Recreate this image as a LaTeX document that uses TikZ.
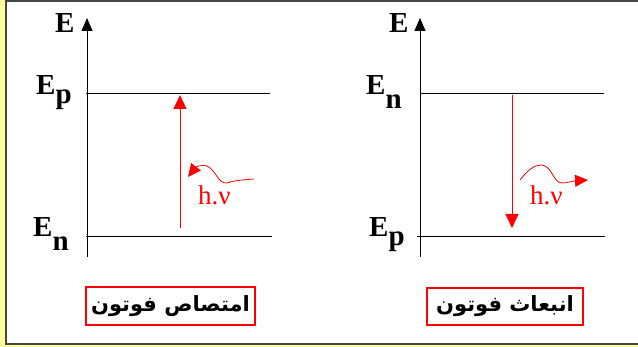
\documentclass[tikz,border=0pt]{standalone}
\usepackage{fontspec}
\setmainfont{Liberation Serif}
\newfontfamily\arabicfont[Script=Arabic]{DejaVu Sans}
\TeXXeTstate=1
\usetikzlibrary{arrows.meta}
\definecolor{bgyellow}{HTML}{FFFF99}
\definecolor{framegray}{HTML}{454545}
\definecolor{myred}{HTML}{FF0000}
\tikzset{
  level/.style={draw=black,line width=1pt},
  axisline/.style={draw=black,line width=1pt,-{Triangle[length=13pt,width=11pt]}},
  transition/.style={draw=myred,line width=1pt,-{Triangle[length=14pt,width=13pt]}},
  photon/.style={draw=myred,line width=0.8pt,-{Triangle[length=13pt,width=12pt]}},
  elabel/.style={anchor=base west,inner sep=0pt,font=\bfseries\fontsize{29}{32}\selectfont},
  hnu/.style={anchor=base west,inner sep=0pt,text=myred,font=\fontsize{27}{30}\selectfont},
  caption/.style={draw=myred,line width=1.2pt,fill=white,inner sep=0pt,font=\arabicfont\bfseries\fontsize{21}{24}\selectfont}
}
\begin{document}
\begin{tikzpicture}[x=1pt,y=-1pt]
\useasboundingbox (0,0) rectangle (638,347);
\fill[bgyellow] (0,0) rectangle (638,347);
\draw[framegray,line width=2pt,fill=white] (6,1) rectangle (660,344);
% ---------- left diagram: absorption ----------
\coordinate (LA0) at (87,257);
\coordinate (LA1) at (87,18);
\draw[axisline] (LA0) -- (LA1);
\node[elabel] (LE) at (55,33) {E};
\coordinate (LpA) at (86,94);
\coordinate (LpB) at (270,94);
\draw[level] (LpA) -- (LpB);
\coordinate (LnA) at (86,237);
\coordinate (LnB) at (272,237);
\draw[level] (LnA) -- (LnB);
\node[elabel] (LEp) at (36,95) {E\raisebox{-9pt}{p}};
\node[elabel] (LEn) at (33,237) {E\raisebox{-14pt}{n}};
\coordinate (LT0) at (180,228);
\coordinate (LT1) at (180,95);
\draw[transition] (LT0) -- (LT1);
\coordinate (LW0) at (254,179);
\coordinate (LW1) at (188,177);
\draw[photon] (LW0) .. controls (240,180) and (232,181) .. (227,183)
  .. controls (218,184) and (216,170) .. (207,166)
  .. controls (200,164) and (195,168) .. (LW1);
\node[hnu] (Lhv) at (198,205) {h.ν};
\node[caption,minimum width=169pt,minimum height=38pt] (Lcap) at (170.5,306)
  {\beginR امتصاص فوتون\endR};
% ---------- right diagram: emission ----------
\coordinate (RA0) at (420,257);
\coordinate (RA1) at (420,18);
\draw[axisline] (RA0) -- (RA1);
\node[elabel] (RE) at (389,33) {E};
\coordinate (RnA) at (420,94);
\coordinate (RnB) at (604,94);
\draw[level] (RnA) -- (RnB);
\coordinate (RpA) at (417,237);
\coordinate (RpB) at (605,237);
\draw[level] (RpA) -- (RpB);
\node[elabel] (REn) at (366,95) {E\raisebox{-14pt}{n}};
\node[elabel] (REp) at (369,237) {E\raisebox{-9pt}{p}};
\coordinate (RT0) at (512,95);
\coordinate (RT1) at (512,228);
\draw[transition] (RT0) -- (RT1);
\coordinate (RW0) at (520,180);
\coordinate (RW1) at (588,180);
\draw[photon] (RW0) .. controls (528,170) and (534,165) .. (541,165)
  .. controls (552,165) and (553,183) .. (562,183)
  .. controls (568,183) and (572,181) .. (RW1);
\node[hnu] (Rhv) at (530,205) {h.ν};
\node[caption,minimum width=156pt,minimum height=37pt] (Rcap) at (505,306.5)
  {\beginR انبعاث فوتون\endR};
\end{tikzpicture}
\end{document}
